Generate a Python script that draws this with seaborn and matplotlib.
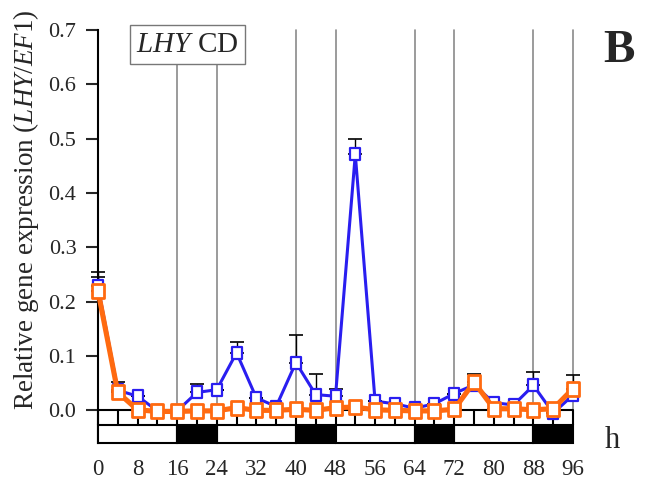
import numpy as np
import matplotlib
matplotlib.use("Agg")
import matplotlib.pyplot as plt
from matplotlib.path import Path
from matplotlib.patches import Rectangle
import seaborn as sns

# ---- data ----
hours = [0, 4, 8, 12, 16, 20, 24, 28, 32, 36, 40, 44, 48, 52, 56, 60, 64, 68, 72, 76, 80, 84, 88, 92, 96]
blue_vals = [0.228, 0.037, 0.026, -0.001, -0.001, 0.033, 0.038, 0.106, 0.023, 0.007, 0.088, 0.029, 0.026,
             0.471, 0.017, 0.012, 0.004, 0.012, 0.031, 0.047, 0.014, 0.010, 0.046, -0.005, 0.028]
blue_err = [0.027, 0.015, 0.0, 0.0, 0.0, 0.015, 0.0, 0.02, 0.0, 0.0, 0.051, 0.037, 0.013,
            0.029, 0.0, 0.0, 0.0, 0.0, 0.0, 0.0, 0.0, 0.0, 0.024, 0.0, 0.0]
orange_vals = [0.220, 0.033, 0.001, -0.002, -0.002, -0.001, -0.001, 0.005, 0.0, 0.0, 0.002, 0.0, 0.005,
               0.006, 0.001, 0.0, -0.001, -0.001, 0.002, 0.052, 0.003, 0.003, 0.001, 0.003, 0.040]
orange_err = [0.025, 0.0, 0.0, 0.0, 0.0, 0.0, 0.0, 0.0, 0.0, 0.0, 0.0, 0.0, 0.0,
              0.0, 0.0, 0.0, 0.0, 0.0, 0.0, 0.014, 0.0, 0.0, 0.0, 0.0, 0.025]
x_ticks = [0, 8, 16, 24, 32, 40, 48, 56, 64, 72, 80, 88, 96]
y_ticks = [0.0, 0.1, 0.2, 0.3, 0.4, 0.5, 0.6, 0.7]
dark_periods = [(16, 24), (40, 48), (64, 72), (88, 96)]
light_periods = [(0, 16), (24, 40), (48, 64), (72, 88)]

sns.set_style("white")
plt.rcParams['font.family'] = ['Liberation Serif', 'DejaVu Serif']
plt.rcParams['mathtext.fontset'] = 'custom'
plt.rcParams['mathtext.rm'] = 'Liberation Serif'
plt.rcParams['mathtext.it'] = 'Liberation Serif:italic'

fig = plt.figure(figsize=(6.52, 4.88), dpi=100)
ax = fig.add_axes([98/652, 1-443.5/488, (573-98)/652, (443.5-30)/488])
ax.set_xlim(0, 96)
ax.set_ylim(-0.061, 0.7)

blue = '#2a1ef0'
orange = '#ff6a10'
BAR_TOP = -0.0276
BAR_BOT = -0.0608

# gray vertical lines at dark period boundaries
for (a, b) in dark_periods:
    for xx in (a, b):
        top = 0.641 if xx in (16, 24) else 0.7
        ax.plot([xx, xx], [BAR_BOT, top], color='#8a8a8a', lw=1.2, zorder=1, clip_on=False)

# baseline and 4h ticks
ax.plot([0, 96], [0, 0], color='black', lw=1.5, zorder=2)
for h in hours:
    ax.plot([h, h], [0, BAR_TOP], color='black', lw=1.5, zorder=2, clip_on=False)

# light/dark bar
for (a, b) in light_periods:
    ax.add_patch(Rectangle((a, BAR_BOT), b - a, BAR_TOP - BAR_BOT, facecolor='white',
                           edgecolor='black', lw=1.5, zorder=3, clip_on=False))
for (a, b) in dark_periods:
    ax.add_patch(Rectangle((a, BAR_BOT), b - a, BAR_TOP - BAR_BOT, facecolor='black',
                           edgecolor='black', lw=1.5, zorder=3, clip_on=False))

rect_marker = Path([(-0.38, -0.5), (0.38, -0.5), (0.38, 0.5), (-0.38, 0.5), (-0.38, -0.5)],
                   [Path.MOVETO, Path.LINETO, Path.LINETO, Path.LINETO, Path.CLOSEPOLY])

# error bars (upper only)
for vals, errs in ((blue_vals, blue_err), (orange_vals, orange_err)):
    eb = ax.errorbar(hours, vals, yerr=[np.zeros(len(errs)), errs], fmt='none',
                     ecolor='black', elinewidth=1.0, capsize=5, capthick=1.2, zorder=4)
    for art in eb.get_children():
        art.set_clip_on(False)

sns.lineplot(x=hours, y=blue_vals, ax=ax, color=blue, lw=2.2, marker=rect_marker, markersize=9,
             markerfacecolor='white', markeredgecolor=blue, markeredgewidth=1.6, zorder=5,
             clip_on=False)
sns.lineplot(x=hours, y=orange_vals, ax=ax, color=orange, lw=3.7, marker=rect_marker, markersize=10.5,
             markerfacecolor='white', markeredgecolor=orange, markeredgewidth=2.0, zorder=6,
             clip_on=False)

# spines
for s in ['top', 'right', 'bottom']:
    ax.spines[s].set_visible(False)
ax.spines['left'].set_color('black')
ax.spines['left'].set_linewidth(1.5)
ax.spines['left'].set_bounds(BAR_BOT, 0.7)

ax.set_yticks(y_ticks)
ax.set_yticklabels([f"{v:.1f}" for v in y_ticks])
ax.set_xticks(x_ticks)
ax.set_xticklabels([str(v) for v in x_ticks])
ax.tick_params(axis='y', direction='out', length=8.5, width=1.5, labelsize=16, pad=7, left=True)
ax.tick_params(axis='x', length=0, labelsize=16.5, pad=11)

ax.text(18.1, 0.673, r"$\mathit{LHY}$ CD", fontsize=21, ha='center', va='center', zorder=7,
        bbox=dict(boxstyle='square,pad=0.22', facecolor='white', edgecolor='#777777', lw=1.0))

fig.text(26/652, 1-210/488, r"Relative gene expression ($\mathit{LHY/EF1}$)", rotation=90,
         fontsize=19.5, ha='center', va='center')
fig.text(612/652, 1-440/488, "h", fontsize=22, ha='center', va='center')
fig.text(619/652, 1-51/488, "B", fontsize=34, fontweight='bold', ha='center', va='center')

fig.savefig("out.png", dpi=100)
